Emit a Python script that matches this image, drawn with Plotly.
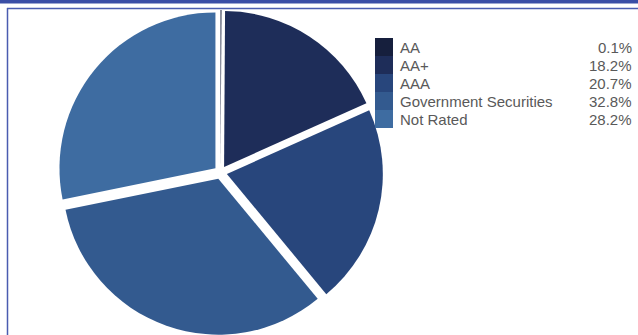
import plotly.graph_objects as go

# Portfolio credit quality breakdown
categories = ["AA", "AA+", "AAA", "Government Securities", "Not Rated"]
shares = [0.1, 18.2, 20.7, 32.8, 28.2]
colors = ["#161f3d", "#1e2d59", "#28467c", "#335a8f", "#3e6ca1"]

W, H = 638, 335


def px_x(x):
    return x / W


def px_y(y):
    return 1 - y / H


fig = go.Figure(
    go.Pie(
        labels=categories,
        values=shares,
        sort=False,
        direction="clockwise",
        rotation=0,
        pull=[0.042] * len(categories),
        marker=dict(colors=colors, line=dict(width=0)),
        textinfo="none",
        hoverinfo="label+percent",
        domain=dict(x=[px_x(220.5 - 165), px_x(220.5 + 165)], y=[0.0, px_y(10)]),
    )
)

shapes = [
    # top banner stripe and thin frame lines
    dict(type="rect", xref="paper", yref="paper", x0=0, x1=1,
         y0=px_y(3.5), y1=1, fillcolor="#3a4ea6", line=dict(width=0), layer="below"),
    dict(type="line", xref="paper", yref="paper", x0=px_x(7), x1=1,
         y0=px_y(8.5), y1=px_y(8.5), line=dict(color="#4a5cb0", width=1.5)),
    dict(type="line", xref="paper", yref="paper", x0=px_x(7.5), x1=px_x(7.5),
         y0=px_y(8), y1=0, line=dict(color="#4a5cb0", width=1.5)),
]

annotations = []
row_top, row_h = 38, 18
for i, (cat, val, col) in enumerate(zip(categories, shares, colors)):
    y0 = row_top + i * row_h
    shapes.append(dict(type="rect", xref="paper", yref="paper",
                       x0=px_x(375), x1=px_x(393), y0=px_y(y0 + row_h), y1=px_y(y0),
                       fillcolor=col, line=dict(width=0)))
    yc = px_y(y0 + row_h / 2)
    annotations.append(dict(xref="paper", yref="paper", x=px_x(398), y=yc,
                            text=cat, showarrow=False, xanchor="left", yanchor="middle",
                            font=dict(size=15, color="#595959")))
    annotations.append(dict(xref="paper", yref="paper", x=px_x(634), y=yc,
                            text=f"{val:.1f}%", showarrow=False, xanchor="right",
                            yanchor="middle", font=dict(size=15, color="#595959")))

fig.update_layout(
    width=W, height=H,
    margin=dict(l=0, r=0, t=0, b=0),
    paper_bgcolor="white",
    plot_bgcolor="white",
    showlegend=False,
    font=dict(family="Liberation Sans, Arial, sans-serif"),
    shapes=shapes,
    annotations=annotations,
)

fig.write_html("out.html")
